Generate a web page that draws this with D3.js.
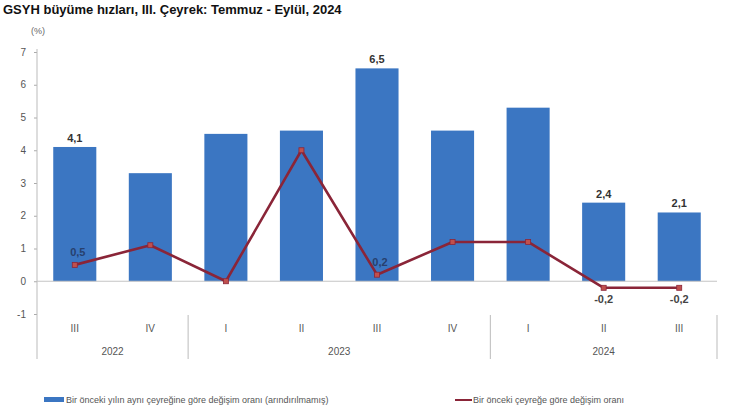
<!DOCTYPE html>
<html>
<head>
<meta charset="utf-8">
<script src="https://cdn.jsdelivr.net/npm/d3@7"></script>
<style>
  body { margin: 0; background: #fff; }
  text { font-family: "Liberation Sans", Arial, sans-serif; }
</style>
</head>
<body>
<svg id="chart" width="733" height="414"></svg>
<script>
// chart data
var quarters = ["III", "IV", "I", "II", "III", "IV", "I", "II", "III"];
var years = [
  {label: "2022", from: 0, to: 1},
  {label: "2023", from: 2, to: 5},
  {label: "2024", from: 6, to: 8}
];
var annualRate = [4.1, 3.3, 4.5, 4.6, 6.5, 4.6, 5.3, 2.4, 2.1];
var quarterlyRate = [0.5, 1.1, 0.0, 4.0, 0.2, 1.2, 1.2, -0.2, -0.2];
var barLabelIdx = [0, 4, 7, 8];
var lineLabels = [
  {i: 0, pos: "above"}, {i: 4, pos: "above"},
  {i: 7, pos: "below"}, {i: 8, pos: "below"}
];
var yTicks = [-1, 0, 1, 2, 3, 4, 5, 6, 7];

// turkish decimal comma, plain hyphen for negatives
var fmt = function(v){ return d3.format(".1f")(v).replace(".", ",").replace("\u2212", "-"); };

var svg = d3.select("#chart");

var x = d3.scaleBand()
  .domain(d3.range(quarters.length))
  .range([37, 717])
  .paddingInner(0.43)
  .paddingOuter(0.215);
var y = d3.scaleLinear().domain([-1, 7]).range([314, 52]);
var cx = function(i){ return x(i) + x.bandwidth() / 2; };
var step = x.step();

// title
svg.append("text")
  .attr("x", 3).attr("y", 14)
  .attr("font-size", 13).attr("font-weight", "bold").attr("fill", "#111")
  .text("GSYH büyüme hızları, III. Çeyrek: Temmuz - Eylül, 2024");
svg.append("text")
  .attr("x", 31).attr("y", 34)
  .attr("font-size", 9).attr("fill", "#666")
  .text("(%)");

// y axis
var yAxis = svg.append("g")
  .attr("transform", "translate(37,0)")
  .call(d3.axisLeft(y).tickValues(yTicks).tickSize(3).tickPadding(8)
    .tickFormat(function(d){ return String(d); }));
yAxis.select(".domain").remove();
yAxis.selectAll("line").attr("stroke", "#aaa");
yAxis.selectAll("text").attr("font-size", 10).attr("fill", "#555")
  .attr("font-family", "Liberation Sans, Arial, sans-serif");
svg.append("line")
  .attr("x1", 37).attr("x2", 37).attr("y1", 49).attr("y2", 359)
  .attr("stroke", "#bbb");

// bars
svg.append("g").selectAll("rect")
  .data(annualRate)
  .enter().append("rect")
  .attr("x", function(d, i){ return x(i); })
  .attr("width", x.bandwidth())
  .attr("y", function(d){ return y(Math.max(d, 0)); })
  .attr("height", function(d){ return Math.abs(y(d) - y(0)); })
  .attr("fill", "#3b76c2");

// zero line
svg.append("line")
  .attr("x1", 37).attr("x2", 717).attr("y1", y(0)).attr("y2", y(0))
  .attr("stroke", "#c4c4c4").attr("stroke-width", 1.2);

// bar labels
svg.append("g").selectAll("text")
  .data(barLabelIdx)
  .enter().append("text")
  .attr("x", function(i){ return cx(i); })
  .attr("y", function(i){ return y(annualRate[i]) - 5; })
  .attr("text-anchor", "middle")
  .attr("font-size", 11).attr("font-weight", "bold").attr("fill", "#333")
  .text(function(i){ return fmt(annualRate[i]); });

// line
var line = d3.line()
  .x(function(d, i){ return cx(i); })
  .y(function(d){ return y(d); });
svg.append("path")
  .datum(quarterlyRate)
  .attr("d", line)
  .attr("fill", "none")
  .attr("stroke", "#8a2538")
  .attr("stroke-width", 2.6)
  .attr("stroke-linejoin", "round");
svg.append("g").selectAll("rect")
  .data(quarterlyRate)
  .enter().append("rect")
  .attr("x", function(d, i){ return cx(i) - 2.5; })
  .attr("y", function(d){ return y(d) - 2.5; })
  .attr("width", 5).attr("height", 5)
  .attr("fill", "#c0504d").attr("stroke", "#8a2538").attr("stroke-width", 0.8);

svg.append("g").selectAll("text")
  .data(lineLabels)
  .enter().append("text")
  .attr("x", function(d){ return d.pos === "above" ? cx(d.i) + 3 : cx(d.i); })
  .attr("y", function(d){ return d.pos === "above" ? y(quarterlyRate[d.i]) - 9 : y(quarterlyRate[d.i]) + 15; })
  .attr("text-anchor", "middle")
  .attr("font-size", 11).attr("font-weight", "bold")
  .attr("fill", function(d){ return d.pos === "above" ? "#27406e" : "#444"; })
  .text(function(d){ return fmt(quarterlyRate[d.i]); });

// category axis
var cat = svg.append("g");
cat.selectAll("text.q")
  .data(quarters)
  .enter().append("text")
  .attr("class", "q")
  .attr("x", function(d, i){ return cx(i); })
  .attr("y", 332)
  .attr("text-anchor", "middle")
  .attr("font-size", 10).attr("fill", "#555")
  .text(function(d){ return d; });
cat.selectAll("text.y")
  .data(years)
  .enter().append("text")
  .attr("class", "y")
  .attr("x", function(d){ return (cx(d.from) + cx(d.to)) / 2; })
  .attr("y", 355)
  .attr("text-anchor", "middle")
  .attr("font-size", 10).attr("fill", "#555")
  .text(function(d){ return d.label; });
// separators after each year group
cat.selectAll("line")
  .data(years)
  .enter().append("line")
  .attr("x1", function(d){ return cx(d.to) + step / 2; })
  .attr("x2", function(d){ return cx(d.to) + step / 2; })
  .attr("y1", 315).attr("y2", 359)
  .attr("stroke", "#bbb");

// legend
var lg = svg.append("g").attr("transform", "translate(0,400)");
lg.append("rect").attr("x", 44).attr("y", -3).attr("width", 20).attr("height", 5).attr("fill", "#3b76c2");
lg.append("text").attr("x", 66).attr("y", 3)
  .attr("font-size", 9).attr("fill", "#555")
  .text("Bir önceki yılın aynı çeyreğine göre değişim oranı (arındırılmamış)");
lg.append("line").attr("x1", 455).attr("x2", 472).attr("y1", 0).attr("y2", 0)
  .attr("stroke", "#8a2538").attr("stroke-width", 2);
lg.append("text").attr("x", 473).attr("y", 3)
  .attr("font-size", 9).attr("fill", "#555")
  .text("Bir önceki çeyreğe göre değişim oranı");
</script>
</body>
</html>
